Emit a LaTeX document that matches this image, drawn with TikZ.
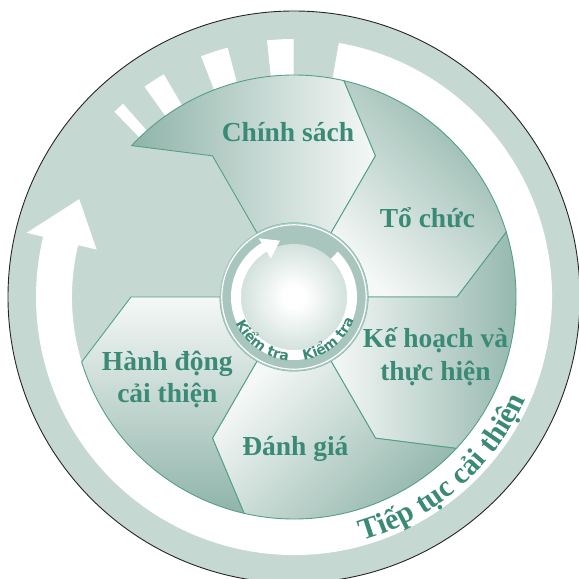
\documentclass[tikz,border=0pt]{standalone}
\usepackage{fontspec}
\setmainfont{Liberation Serif}
\newfontfamily\kiemfont{DejaVu Sans}
\usepackage{tikz}
\usetikzlibrary{decorations.text}
\definecolor{ringgray}{HTML}{C5D8D2}
\definecolor{segdark}{HTML}{8FB4A9}
\definecolor{seglight}{HTML}{F5F8F7}
\definecolor{textgreen}{HTML}{3B8A76}
\definecolor{edgegreen}{HTML}{54A08B}
\definecolor{hubring}{HTML}{A8C6BD}
\definecolor{hubdark}{HTML}{9CBDB3}
\pgfdeclareradialshading{hubshade}{\pgfpoint{0bp}{0bp}}{color(0bp)=(white); color(5bp)=(white); color(50bp)=(hubdark); color(72bp)=(hubdark)}
\newcommand\hubtextfont{\kiemfont\bfseries\fontsize{14}{14}\selectfont}
\newcommand\bandtextfont{\bfseries\fontsize{30}{30}\selectfont}

\begin{document}
\begin{tikzpicture}[x=1pt, y=1pt,
  seg/.style={draw=edgegreen, line width=0.9pt, top color=seglight, bottom color=segdark},
  lbl/.style={font=\bfseries\fontsize{27.5}{32.5}\selectfont, text=textgreen,
              align=center, inner sep=0pt, anchor=base},
  ringtext/.style={decorate, decoration={text along path, text align=center,
              text color=textgreen, text={#1}}}
]
  \useasboundingbox (-294,-282) rectangle (285,297);
  \clip (-294,-282) rectangle (285,297);

  % outer ring
  \draw[fill=ringgray, draw=black!85, line width=0.9pt] (0,0) circle[radius=286];

  % white band with arrow head
  \fill[white] (80:222) -- (80:258) arc[start angle=80, end angle=-193.5, radius=258]
    -- (-193.5:275) -- (-204.5:236) -- (-193.5:203) -- (-193.5:222)
    arc[start angle=-193.5, end angle=80, radius=222] -- cycle;
  \foreach \s/\e in {131.5/134.1, 120.3/125.4, 104.9/111.1, 90.1/96.0}
    \fill[white] (\s:222) -- (\s:258) arc[start angle=\s, end angle=\e, radius=258]
      -- (\e:222) arc[start angle=\e, end angle=\s, radius=222] -- cycle;

  % pinwheel segments
  \foreach \a/\sh in {120/-90, 60/135, 0/90, -60/45, -120/0}
    \path[seg, shading angle=\sh] (\a:74) -- (\a:163) -- ({\a+17}:222)
      arc[start angle=\a+17, end angle=\a-43, radius=222]
      -- ({\a-60}:163) -- ({\a-60}:74)
      arc[start angle=\a-60, end angle=\a, radius=74] -- cycle;

  % hub
  \draw[fill=hubring, draw=edgegreen!50] (0,0) circle[radius=74];
  \draw[white, line width=1.2pt] (0,0) circle[radius=72.2];
  \shade[shading=hubshade] (0,0) circle[radius=53];
  \fill[white] (46:53) -- (46:63) arc[start angle=46, end angle=-239, radius=63]
    -- (-239:68.5) -- (-256:58) -- (-239:45) -- (-239:53)
    arc[start angle=-239, end angle=46, radius=53] -- cycle;

  % texts along the rings
  \path[ringtext={|\hubtextfont|Kiểm tra}] (194.5:64) arc[start angle=194.5, end angle=274.5, radius=64];
  \path[ringtext={|\hubtextfont|Kiểm tra}] (269:64) arc[start angle=269, end angle=349, radius=64];
  \path[ringtext={|\bandtextfont|Tiếp tục cải thiện}] (-89:253) arc[start angle=-89, end angle=-9, radius=253];

  % labels
  \node[lbl] (chinhsach) at (-6,155) {Chính sách};
  \node[lbl] (tochuc) at (133.4,69.2) {Tổ chức};
  \node[lbl] (kehoach) at (141.5,-83.4) {Kế hoạch và\\thực hiện};
  \node[lbl] (danhgia) at (1.4,-158.3) {Đánh giá};
  \node[lbl] (hanhdong) at (-126.7,-105.5) {Hành động\\cải thiện};
\end{tikzpicture}
\end{document}
